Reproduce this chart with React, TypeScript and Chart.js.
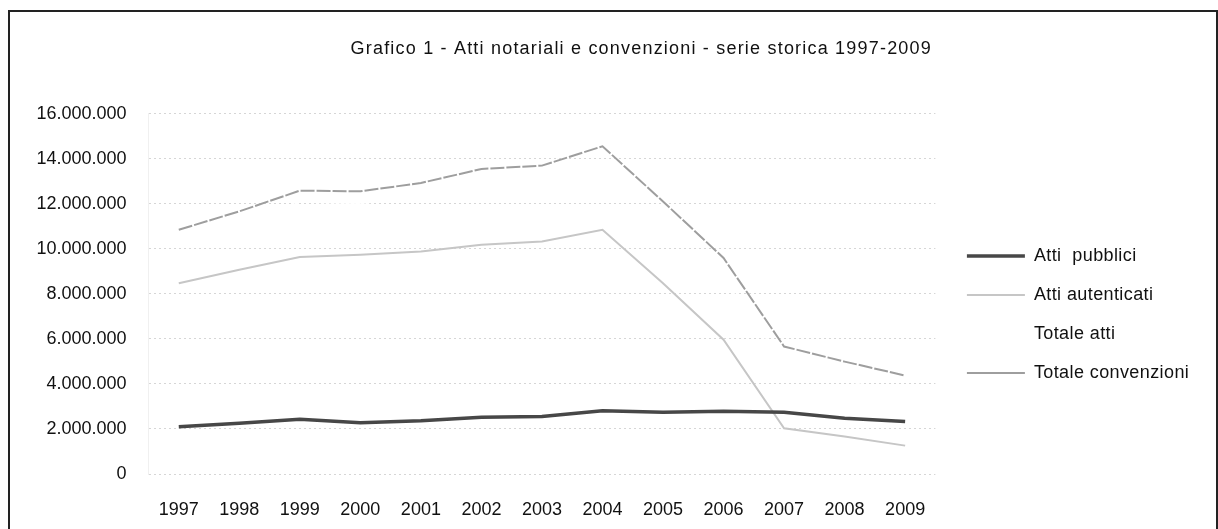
import React, { useEffect, useRef } from "react";
import { Chart, registerables } from "chart.js";

Chart.register(...registerables);

const years = ["1997", "1998", "1999", "2000", "2001", "2002", "2003", "2004", "2005", "2006", "2007", "2008", "2009"];
const attiPubblici = [2100000, 2250000, 2430000, 2280000, 2360000, 2520000, 2550000, 2810000, 2740000, 2790000, 2740000, 2480000, 2330000];
const attiAutenticati = [8470000, 9070000, 9630000, 9730000, 9880000, 10180000, 10320000, 10840000, 8470000, 5960000, 2030000, 1660000, 1260000];
const totaleAtti = [10570000, 11320000, 12060000, 12010000, 12240000, 12700000, 12870000, 13650000, 11210000, 8750000, 4770000, 4140000, 3590000];
const totaleConvenzioni = [10840000, 11660000, 12580000, 12550000, 12920000, 13540000, 13690000, 14550000, 12100000, 9590000, 5660000, 4990000, 4370000];

const yTicks = [0, 2000000, 4000000, 6000000, 8000000, 10000000, 12000000, 14000000, 16000000];

const titleText = "Grafico 1 - Atti notariali e convenzioni - serie storica 1997-2009";
const FONT = "'Liberation Sans', Arial, sans-serif";

function fmt(v: number): string {
  return String(Math.round(v)).replace(/\B(?=(\d{3})+(?!\d))/g, ".");
}

export default function App() {
  const ref = useRef<HTMLCanvasElement>(null);

  useEffect(() => {
    const canvas = ref.current;
    if (!canvas) return;
    const chart = new Chart(canvas, {
      type: "line",
      data: {
        labels: years,
        datasets: [
          {
            label: "Atti  pubblici",
            data: attiPubblici,
            borderColor: "#474747",
            backgroundColor: "#474747",
            borderWidth: 3.5,
            pointRadius: 0,
            tension: 0,
          },
          {
            label: "Atti autenticati",
            data: attiAutenticati,
            borderColor: "#c6c6c6",
            backgroundColor: "#c6c6c6",
            borderWidth: 2,
            pointRadius: 0,
            tension: 0,
          },
          {
            label: "Totale atti",
            data: totaleAtti,
            borderColor: "#ffffff",
            backgroundColor: "#ffffff",
            borderWidth: 1,
            pointRadius: 0,
            tension: 0,
          },
          {
            label: "Totale convenzioni",
            data: totaleConvenzioni,
            borderColor: "#9e9e9e",
            backgroundColor: "#9e9e9e",
            borderWidth: 2,
            borderDash: [14, 2],
            pointRadius: 0,
            tension: 0,
          },
        ],
      },
      options: {
        responsive: false,
        animation: false,
        layout: { padding: { left: 0, right: 34.5, top: 0, bottom: 0 } },
        plugins: {
          title: {
            display: true,
            text: titleText,
            color: "#111",
            font: { family: FONT, size: 18, weight: "normal" },
            padding: { top: 26, bottom: 54 },
          },
          legend: {
            position: "right",
            align: "center",
            labels: {
              color: "#111",
              font: { family: FONT, size: 18 },
              usePointStyle: true,
              pointStyle: "line",
              pointStyleWidth: 58,
              padding: 21,
            },
          },
          tooltip: { enabled: false },
        },
        scales: {
          x: {
            offset: true,
            afterFit: (s: any) => {
              s.height = 55;
            },
            grid: { display: false, drawTicks: false },
            border: { display: false },
            ticks: {
              color: "#111",
              font: { family: FONT, size: 18 },
              padding: 25,
              maxRotation: 0,
              autoSkip: false,
            },
          },
          y: {
            min: 0,
            max: 16000000,
            afterFit: (s: any) => {
              s.width = 138.5;
            },
            afterBuildTicks: (s: any) => {
              s.ticks = yTicks.map((v) => ({ value: v }));
            },
            grid: {
              color: "rgba(0,0,0,0.16)",
              drawTicks: false,
            },
            border: { display: true, color: "rgba(0,0,0,0.06)", dash: [2, 3] },
            ticks: {
              color: "#111",
              font: { family: FONT, size: 18 },
              padding: 22,
              callback: (v: any) => fmt(Number(v)),
            },
          },
        },
      },
    });

    const anyChart = chart as any;
    const tb = anyChart.titleBlock;
    if (tb) {
      const orig = tb.draw.bind(tb);
      tb.draw = (...args: any[]) => {
        const c = chart.ctx as any;
        c.save();
        c.letterSpacing = "1.2px";
        c.translate(45.5, 0);
        orig(...args);
        c.restore();
      };
    }
    const lg = anyChart.legend;
    if (lg) {
      const origL = lg.draw.bind(lg);
      lg.draw = (...args: any[]) => {
        const c = chart.ctx as any;
        c.save();
        c.letterSpacing = "0.4px";
        c.translate(10.5, 44);
        origL(...args);
        c.restore();
      };
    }
    chart.draw();

    return () => chart.destroy();
  }, []);

  return (
    <div style={{ position: "fixed", left: 0, top: 0, width: 1218, height: 529, overflow: "hidden", background: "#fff" }}>
      <div
        style={{
          position: "absolute",
          left: 8,
          top: 10,
          width: 1206,
          height: 519,
          borderLeft: "2px solid #222",
          borderTop: "2px solid #222",
          borderRight: "2px solid #222",
        }}
      >
        <canvas ref={ref} width={1206} height={517} style={{ display: "block", width: 1206, height: 517 }} />
      </div>
    </div>
  );
}
